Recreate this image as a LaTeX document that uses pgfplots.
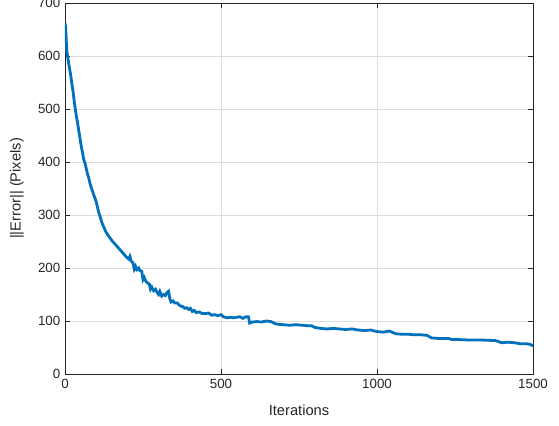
\documentclass[border=0pt]{standalone}
\usepackage{fontspec}
\setmainfont{Liberation Sans}
\usepackage{pgfplots}
\pgfplotsset{compat=1.18}
\definecolor{mblue}{rgb}{0,0.447,0.741}
\definecolor{axgray}{rgb}{0.15,0.15,0.15}
\definecolor{gridgray}{rgb}{0.87,0.87,0.87}

\pgfplotstableread{
x y
0 662
2 655
4 630
6 610
8 600
10 593
12 585
15 575
18 565
21 552
24 540
27 528
30 512
33 500
36 488
40 475
44 460
48 445
52 430
56 418
60 405
64 398
68 388
72 378
76 370
80 360
84 352
88 345
92 338
96 332
100 325
104 315
108 305
112 298
116 290
120 283
126 275
132 267
138 262
144 257
150 252
156 248
162 244
168 240
174 236
180 232
186 228
192 224
198 220
204 217
208 222
212 213
218 210
222 198
226 203
230 197
236 200
240 195
246 194
250 178
254 182
258 176
264 172
270 170
274 160
278 164
284 157
290 160
296 153
300 150
304 156
310 147
316 150
322 148
326 153
332 156
336 142
340 136
346 138
352 134
360 134
366 130
372 128
378 127
384 124
390 125
396 122
402 124
408 118
414 120
420 116
430 117
440 114
450 114
460 115
470 111
480 112
490 110
500 112
508 108
520 106
530 107
540 106
550 107
560 108
570 105
580 108
588 108
592 96
600 98
615 99
630 98
645 100
660 99
670 96
680 94
700 93
720 92
740 93
760 92
780 91
790 91
800 88
820 86
840 85
860 86
880 85
900 84
920 85
940 83
960 82
980 83
1000 80
1020 79
1040 81
1060 76
1080 75
1100 75
1120 74
1140 74
1160 73
1175 68
1200 67
1230 67
1240 65
1260 65
1300 64
1340 64
1380 63
1400 59
1420 60
1440 59
1460 57
1480 57
1490 56
1500 53
}\errdata

\begin{document}
\begin{tikzpicture}
\useasboundingbox (-48.75pt,-38.25pt) rectangle (370.5pt,280.5pt);
\begin{axis}[
  at={(0,0)}, anchor=south west,
  scale only axis,
  width=351pt, height=278.25pt,
  xmin=0, xmax=1500, ymin=0, ymax=700,
  xtick={0,500,1000,1500},
  ytick={0,100,...,700},
  grid=major,
  major grid style={gridgray, line width=0.5pt},
  axis line style={axgray, line width=0.6pt},
  tick style={axgray, line width=0.6pt},
  tick align=inside,
  major tick length=3.5pt,
  ticklabel style={font=\fontsize{10}{12}\selectfont, text=axgray},
  label style={font=\fontsize{11}{13}\selectfont, text=axgray},
  /pgf/number format/assume math mode=true,
  /pgf/number format/set thousands separator={},
  xlabel={Iterations},
  ylabel={||Error|| (Pixels)},
  xlabel style={at={(axis description cs:0.5,-0.097)}, anchor=center},
  ylabel style={at={(axis description cs:-0.1026,0.5)}, anchor=center},
]
\addplot[mblue, line width=2.1pt] table[x=x, y=y] {\errdata};
\end{axis}
\end{tikzpicture}
\end{document}
